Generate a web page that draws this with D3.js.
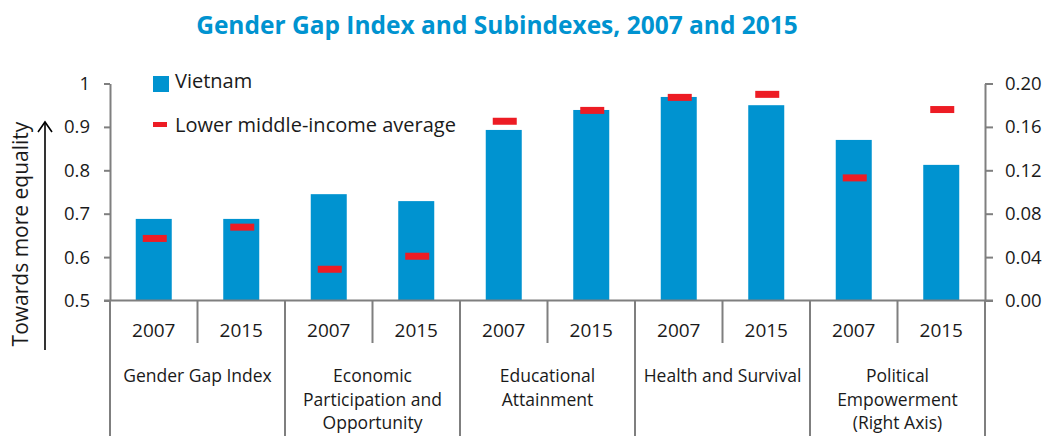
<!DOCTYPE html>
<html>
<head>
<meta charset="utf-8">
<script src="https://cdn.jsdelivr.net/npm/d3@7"></script>
<style>
  body { margin: 0; background: #fff; }
  svg text { font-family: "Open Sans", sans-serif; fill: #1a1a1a; }
</style>
</head>
<body>
<div id="chart"></div>
<script>
// chart data
const groups = ["Gender Gap Index", "Economic\nParticipation and\nOpportunity", "Educational\nAttainment", "Health and Survival", "Political\nEmpowerment\n(Right Axis)"];
const years = ["2007", "2015"];
const vietnam = [0.688, 0.688, 0.745, 0.729, 0.893, 0.939, 0.969, 0.950, 0.148, 0.125];
const lowerMiddle = [0.643, 0.669, 0.572, 0.602, 0.913, 0.938, 0.968, 0.975, 0.113, 0.176];
const leftTicks = [0.5, 0.6, 0.7, 0.8, 0.9, 1];
const rightTicks = [0, 0.04, 0.08, 0.12, 0.16, 0.2];

const width = 1048, height = 436;
const blue = "#0093d0", red = "#ed1c24", axisGrey = "#7f7f7f";

// one row per bar: group index + year
const rows = [];
groups.forEach((g, gi) => years.forEach((y, yi) => {
    const i = gi * 2 + yi;
    rows.push({ key: i, group: gi, year: y, v: vietnam[i], avg: lowerMiddle[i], right: gi === 4 });
}));

const x = d3.scaleBand().domain(rows.map(d => d.key)).range([110, 985]).padding(0);
const yL = d3.scaleLinear().domain([0.5, 1]).range([300.5, 83.5]);
const yR = d3.scaleLinear().domain([0, 0.2]).range([300.5, 83.5]);
const yOf = d => d.right ? yR : yL;

const svg = d3.select("#chart").append("svg")
    .attr("width", width)
    .attr("height", height);

// title
svg.append("text")
    .attr("x", 497).attr("y", 34)
    .attr("text-anchor", "middle")
    .attr("font-size", 24.5).attr("font-weight", 700)
    .style("fill", blue)
    .text("Gender Gap Index and Subindexes, 2007 and 2015");

// bars
const barW = 36;
svg.append("g").selectAll("rect")
    .data(rows)
    .join("rect")
    .attr("x", d => x(d.key) + x.bandwidth() / 2 - barW / 2)
    .attr("width", barW)
    .attr("y", d => yOf(d)(d.v))
    .attr("height", d => yOf(d).range()[0] - yOf(d)(d.v))
    .attr("fill", blue);

// average markers
const mW = 24, mH = 7;
svg.append("g").selectAll("rect")
    .data(rows)
    .join("rect")
    .attr("x", d => x(d.key) + x.bandwidth() / 2 - mW / 2 + 1)
    .attr("width", mW)
    .attr("y", d => yOf(d)(d.avg) - mH / 2)
    .attr("height", mH)
    .attr("fill", red);

// axes
const styleAxis = g => {
    g.select(".domain").attr("stroke", axisGrey).attr("stroke-width", 2);
    g.selectAll(".tick line").attr("stroke", axisGrey).attr("stroke-width", 2);
    g.selectAll(".tick text").attr("font-size", 18.5).style("font-family", '"Open Sans", sans-serif').style("fill", "#1a1a1a");
};

svg.append("g")
    .attr("transform", "translate(110,0)")
    .call(d3.axisLeft(yL).tickValues(leftTicks).tickSize(6).tickSizeOuter(0).tickPadding(14)
        .tickFormat(d => d === 1 ? "1" : d3.format(".1f")(d)))
    .call(styleAxis);

svg.append("g")
    .attr("transform", "translate(985,0)")
    .call(d3.axisRight(yR).tickValues(rightTicks).tickSize(8).tickSizeOuter(0).tickPadding(12)
        .tickFormat(d3.format(".2f")))
    .call(styleAxis);

// baseline
svg.append("line")
    .attr("x1", 104).attr("x2", 993)
    .attr("y1", 300.5).attr("y2", 300.5)
    .attr("stroke", axisGrey).attr("stroke-width", 2);

// category separators
const edges = d3.range(rows.length + 1).map(i => i === rows.length ? x.range()[1] : x(i));
svg.append("g").selectAll("line")
    .data(edges)
    .join("line")
    .attr("x1", d => d).attr("x2", d => d)
    .attr("y1", 300.5)
    .attr("y2", (d, i) => i % 2 === 0 ? height : 343)
    .attr("stroke", axisGrey).attr("stroke-width", 2);

// year labels
svg.append("g").selectAll("text")
    .data(rows)
    .join("text")
    .attr("x", d => x(d.key) + x.bandwidth() / 2)
    .attr("y", 337)
    .attr("text-anchor", "middle")
    .attr("font-size", 19)
    .text(d => d.year);

// group labels
const gl = svg.append("g").selectAll("text")
    .data(groups)
    .join("text")
    .attr("x", (d, i) => x(i * 2) + x.bandwidth())
    .attr("y", 382)
    .attr("text-anchor", "middle")
    .attr("font-size", 17.5);
gl.selectAll("tspan")
    .data(d => d.split("\n"))
    .join("tspan")
    .attr("x", function () { return this.parentNode.getAttribute("x"); })
    .attr("dy", (d, i) => i === 0 ? 0 : 23.5)
    .text(d => d);

// legend
svg.append("rect").attr("x", 153).attr("y", 76).attr("width", 16).attr("height", 16).attr("fill", blue);
svg.append("text").attr("x", 175).attr("y", 88).attr("font-size", 20).text("Vietnam");
svg.append("rect").attr("x", 153).attr("y", 122).attr("width", 14).attr("height", 5).attr("fill", red);
svg.append("text").attr("x", 175).attr("y", 132).attr("font-size", 20).text("Lower middle-income average");

// y label with arrow
svg.append("text")
    .attr("transform", "translate(28,234) rotate(-90)")
    .attr("text-anchor", "middle")
    .attr("font-size", 21)
    .text("Towards more equality");
svg.append("line")
    .attr("x1", 45).attr("x2", 45).attr("y1", 350).attr("y2", 123)
    .attr("stroke", "#000").attr("stroke-width", 1.6);
svg.append("path")
    .attr("d", "M38,132 L45,122 L52,132")
    .attr("fill", "none").attr("stroke", "#000").attr("stroke-width", 1.6);
</script>
</body>
</html>
